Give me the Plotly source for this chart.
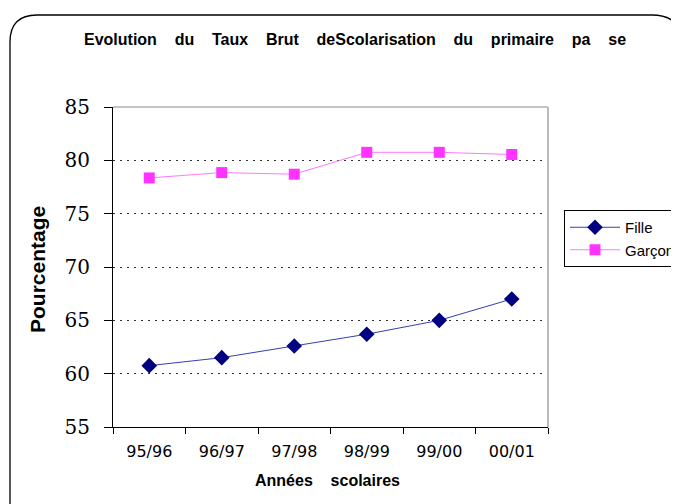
import plotly.graph_objects as go

categories = ["95/96", "96/97", "97/98", "98/99", "99/00", "00/01"]
fille = [60.75, 61.5, 62.6, 63.7, 65.0, 67.0]
garcon = [78.35, 78.85, 78.7, 80.75, 80.75, 80.55]
y_ticks = [55, 60, 65, 70, 75, 80, 85]

O = 8  # page body offset
SW, SH = 679, 504
W, H = SW - O, SH - O
# plot area in screen px
SL, SR, ST, SB = 113, 548, 107, 427
L, T = SL - O, ST - O
R, B = SW - SR, SH - SB
PW, PH = SR - SL, SB - ST

def px(x):
    return (x - SL) / PW

def py(y):
    return (SB - y) / PH

fig = go.Figure()
fig.add_trace(go.Scatter(
    x=categories, y=fille, name="Fille", mode="lines+markers",
    line=dict(color="#3340B0", width=1),
    marker=dict(symbol="diamond", size=12, color="#000080"),
))
fig.add_trace(go.Scatter(
    x=categories, y=garcon, name="Garçon", mode="lines+markers",
    line=dict(color="#FF77FF", width=1),
    marker=dict(symbol="square", size=11, color="#FF33FF"),
))

nb = "\u00a0"
sp = nb * 4
title = f"Evolution{sp}du{sp}Taux{sp}Brut{sp}deScolarisation{sp}du{sp}primaire{sp}pa{sp}se"
annotations = [
    dict(text=f"<b>{title}</b>", xref="paper", yref="paper", x=px(82), y=py(40),
         xanchor="left", yanchor="middle", showarrow=False,
         font=dict(family="Liberation Sans", size=16, color="black")),
    dict(text=f"<b>Années{nb*4}scolaires</b>", xref="paper", yref="paper", x=px(253), y=py(480),
         xanchor="left", yanchor="middle", showarrow=False,
         font=dict(family="Liberation Sans", size=16, color="black")),
    dict(text="<b>Pourcentage</b>", xref="paper", yref="paper", x=px(37), y=py(270),
         xanchor="center", yanchor="middle", showarrow=False, textangle=-90,
         font=dict(family="Liberation Sans", size=21, color="black")),
]

shapes = [
    dict(type="path", xref="paper", yref="paper",
         path=(f"M {px(10)},{py(515)} L {px(10)},{py(42)} "
               f"Q {px(10)},{py(15)} {px(37)},{py(15)} "
               f"L {px(652)},{py(15)} Q {px(677)},{py(15)} {px(680)},{py(35)}"),
         line=dict(color="black", width=1.3)),
    dict(type="line", xref="paper", yref="paper", x0=0, x1=1, y0=1, y1=1,
         line=dict(color="#888888", width=1)),
    dict(type="line", xref="paper", yref="paper", x0=1, x1=1, y0=0, y1=1,
         line=dict(color="#BBBBBB", width=2)),
]

fig.update_layout(
    width=W, height=H,
    margin=dict(l=L, r=R, t=T, b=B, autoexpand=False),
    paper_bgcolor="white", plot_bgcolor="white",
    showlegend=True,
    legend=dict(x=px(564), y=py(210), xanchor="left", yanchor="top",
                bordercolor="black", borderwidth=1, bgcolor="white",
                font=dict(family="Liberation Sans", size=15, color="black"),
                tracegroupgap=0, itemwidth=50),
    annotations=annotations,
    shapes=shapes,
    xaxis=dict(type="category", range=[-0.5, 5.5], tickson="boundaries",
               ticks="outside", ticklen=6, tickcolor="black",
               showline=True, linecolor="black", linewidth=1,
               showgrid=False, zeroline=False, ticklabelstandoff=10,
               tickfont=dict(family="DejaVu Sans", size=16, color="black")),
    yaxis=dict(range=[55, 85], tickvals=y_ticks, ticks="outside", ticklen=8,
               tickcolor="black", showline=True, linecolor="black", linewidth=1,
               showgrid=True, gridcolor="#333333", griddash="2px,5px", gridwidth=1,
               zeroline=False, ticklabelstandoff=10,
               tickfont=dict(family="DejaVu Serif", size=20, color="black")),
)

fig.write_html("out.html")
